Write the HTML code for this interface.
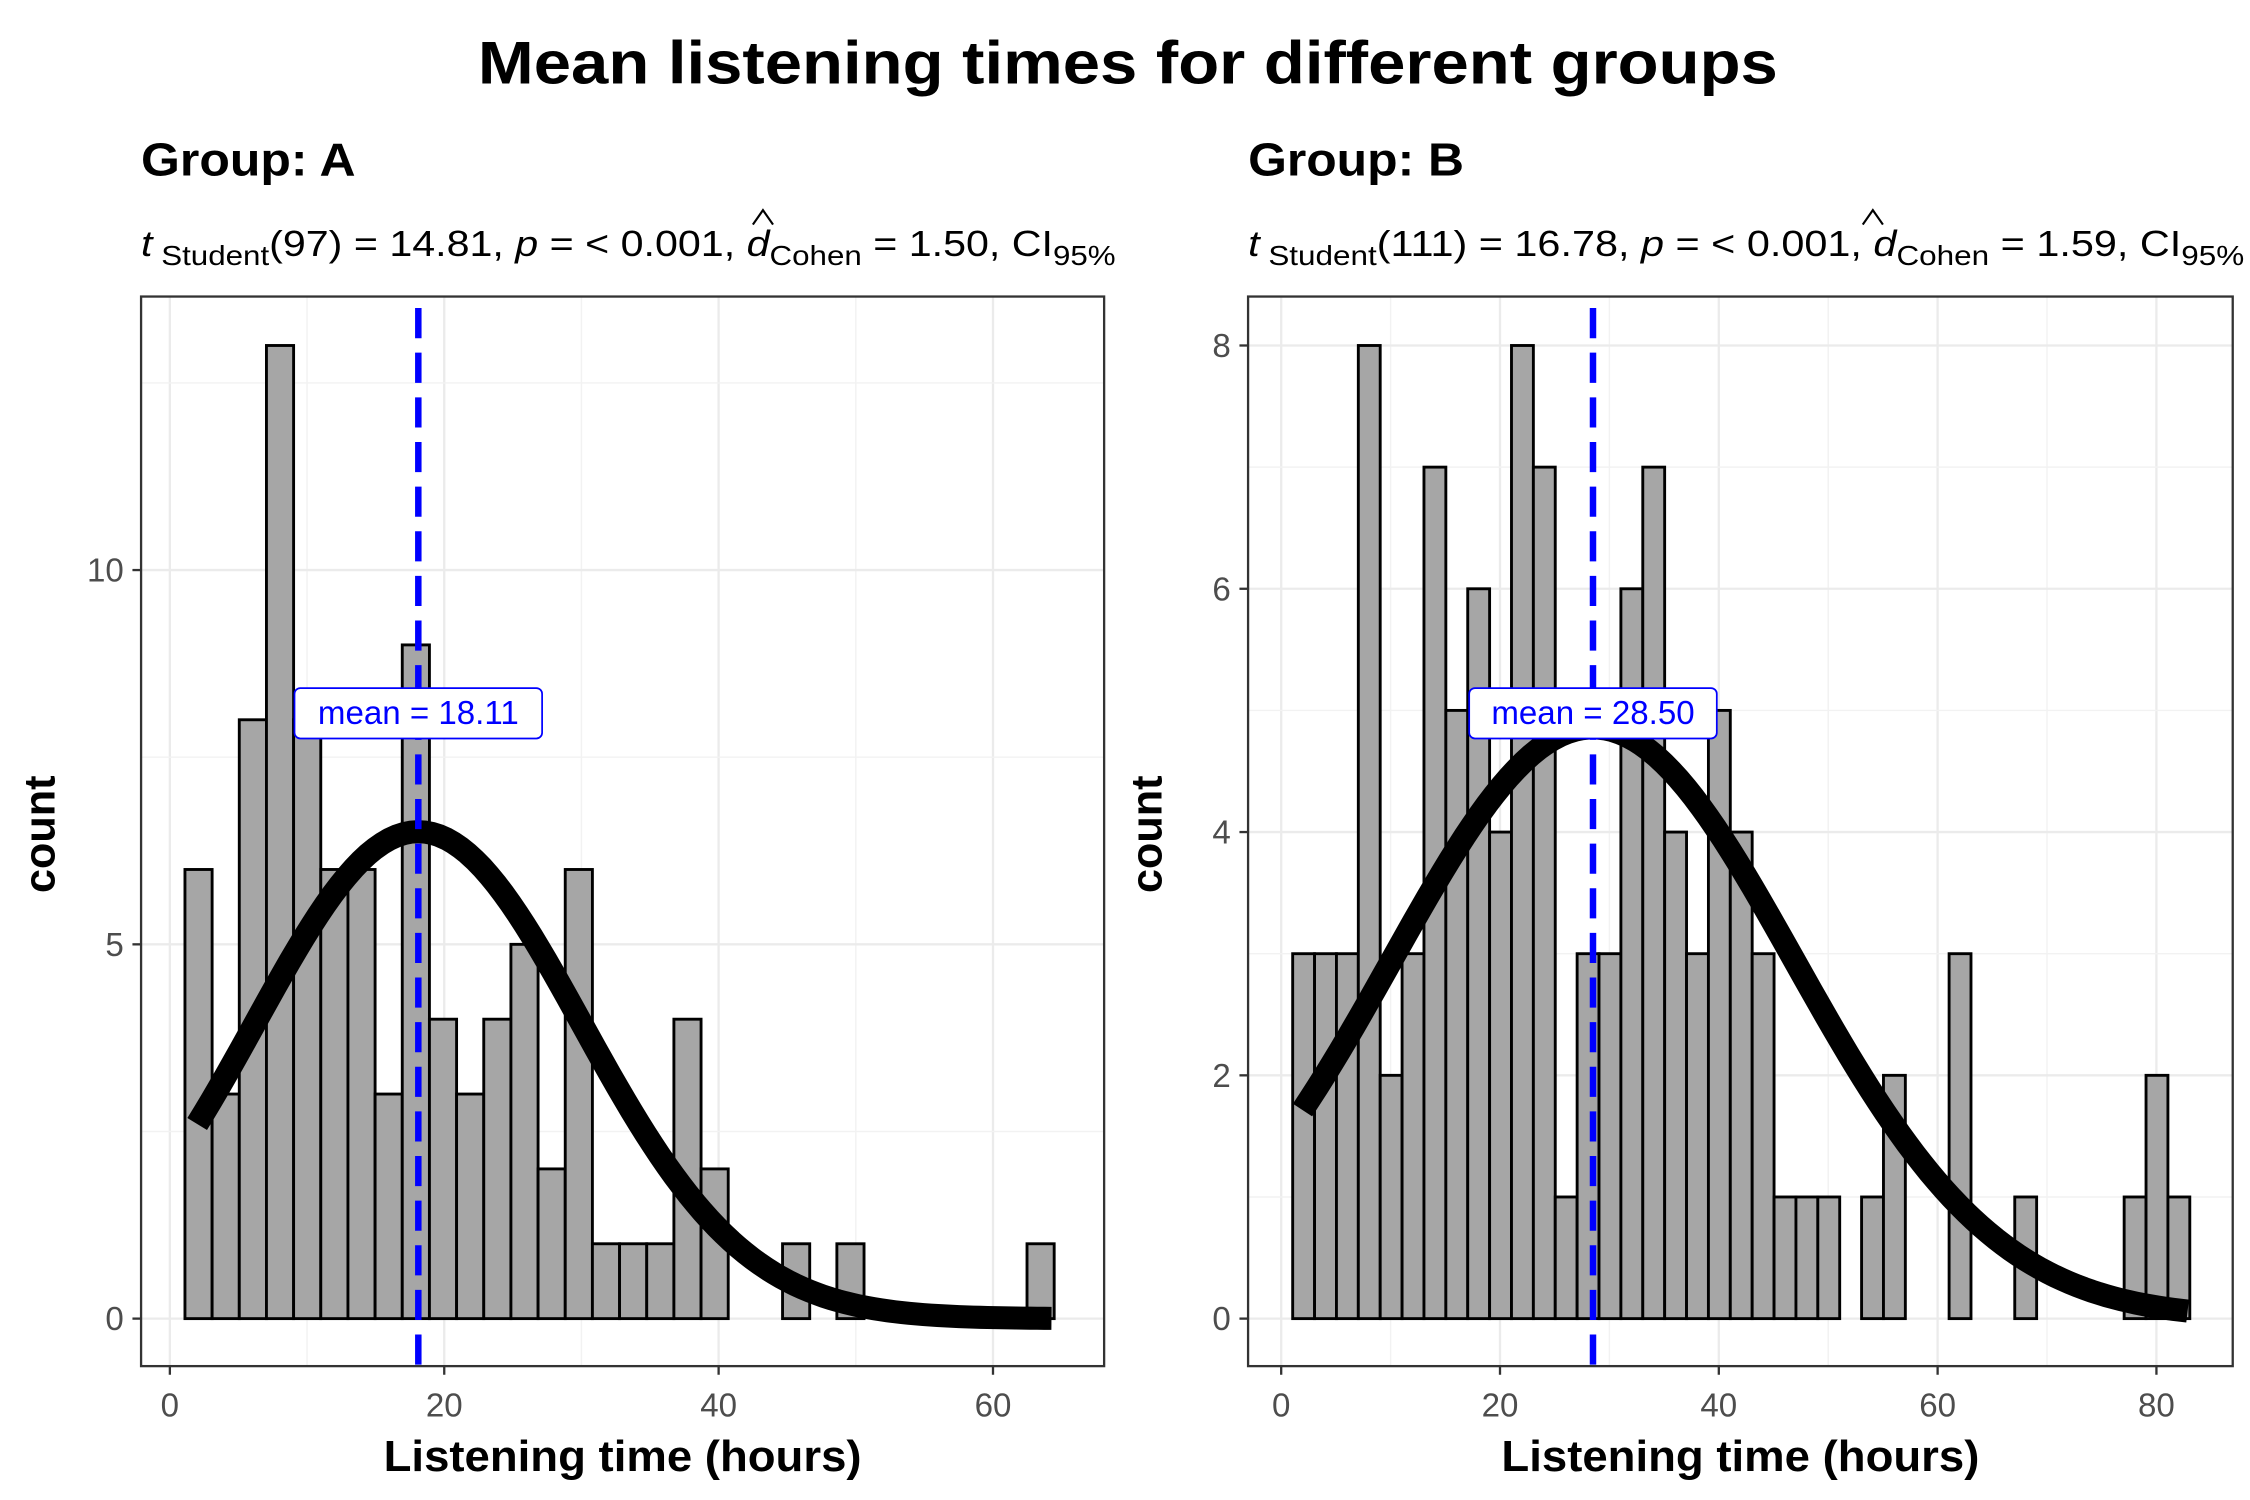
<!DOCTYPE html>
<html><head><meta charset="utf-8"><style>
html,body{margin:0;padding:0;background:#fff;}
svg{display:block;font-family:"Liberation Sans",Arial,sans-serif;}
</style></head><body>
<svg id="chart" width="2250" height="1500" viewBox="0 0 1563 1042" preserveAspectRatio="none" xmlns="http://www.w3.org/2000/svg">
<rect width="1563" height="1042" fill="#fff"/>
<text x="332" y="58" font-size="42" font-weight="bold" textLength="903" lengthAdjust="spacingAndGlyphs">Mean listening times for different groups</text>
</svg>
<script>
// ---- data ----
const binStartA = 1.1;
const binWidthA = 1.98;
const countsA = [6,3,8,13,8,6,6,3,9,4,3,4,5,2,6,1,1,1,4,2,0,0,1,0,1,0,0,0,0,0,0,1];
const meanA = 18.11;
const sdA = 11.9;
const nA = 98;
const xTicksA = [0,20,40,60];
const yTicksA = [0,5,10];

const binStartB = 1.05;
const binWidthB = 2.0;
const countsB = [3,3,3,8,2,3,7,5,6,4,8,7,1,3,3,6,7,4,3,5,4,3,1,1,1,0,1,2,0,0,3,0,0,1,0,0,0,0,1,2,1];
const meanB = 28.50;
const sdB = 18.4;
const nB = 112;
const xTicksB = [0,20,40,60,80];
const yTicksB = [0,2,4,6,8];

const svg = document.getElementById('chart');
const NS = 'http://www.w3.org/2000/svg';
function mk(tag, attrs, parent){
  const e = document.createElementNS(NS, tag);
  for (const k in attrs) e.setAttribute(k, attrs[k]);
  (parent||svg).appendChild(e);
  return e;
}

function panel(o){
  const g = mk('g', {});
  
  
  const X = v => o.x0 + (v - o.xd0) * o.xs;
  const Y = v => o.y0 - v * o.ys;
  const t = mk('text', {x:o.left, y:122, 'font-size':32, 'font-weight':'bold', textLength:o.titleLen, lengthAdjust:'spacingAndGlyphs'}, g);
  t.textContent = o.title;
  
  
  const s = mk('text', {x:o.left, y:178, 'font-size':25, textLength:o.subLen, lengthAdjust:'spacingAndGlyphs'}, g);
  
  
  s.innerHTML = '<tspan font-style="italic">t</tspan><tspan font-size="19" dy="6"> Student</tspan><tspan dy="-6">(' + o.df + ') = ' + o.tval + ', </tspan><tspan font-style="italic">p</tspan><tspan> = &lt; 0.001, </tspan><tspan font-style="italic">d</tspan><tspan font-size="19" dy="6">Cohen</tspan><tspan dy="-6"> = ' + o.dval + ', CI</tspan><tspan font-size="19" dy="6">95%</tspan>';
  const hat = mk('path', {d:'M'+(o.hatX-7)+' 156 L'+o.hatX+' 146 L'+(o.hatX+7)+' 156', fill:'none', stroke:'#000', 'stroke-width':1.5}, g);
  
  
  const grid = mk('g', {}, g);
  
  
  for (let i = 0; i < o.xTicks.length; i++) {
    const v = o.xTicks[i];
    mk('line', {x1:X(v), x2:X(v), y1:o.top, y2:o.bottom, stroke:'#ebebeb', 'stroke-width':1.6}, grid);
    const mv = v + (o.xTicks[1]-o.xTicks[0])/2;
    if (X(mv) < o.right) mk('line', {x1:X(mv), x2:X(mv), y1:o.top, y2:o.bottom, stroke:'#f2f2f2', 'stroke-width':1}, grid);
  }
  for (let i = 0; i < o.yTicks.length; i++) {
    const v = o.yTicks[i];
    mk('line', {x1:o.left, x2:o.right, y1:Y(v), y2:Y(v), stroke:'#ebebeb', 'stroke-width':1.6}, grid);
    const mv = v + (o.yTicks[1]-o.yTicks[0])/2;
    if (Y(mv) > o.top) mk('line', {x1:o.left, x2:o.right, y1:Y(mv), y2:Y(mv), stroke:'#f2f2f2', 'stroke-width':1}, grid);
  }
  for (let i = 0; i < o.counts.length; i++) {
    const x1 = X(o.bin0 + i*o.bw), x2 = X(o.bin0 + (i+1)*o.bw);
    const r = mk('rect', {x:x1, y:Y(o.counts[i]), width:x2-x1, height:Y(0)-Y(o.counts[i]), fill:'#a6a6a6', stroke:'#000', 'stroke-width':2}, g);
    
    
  }
  let d = '';
  const xa = o.bin0 + o.bw*0.45, xb = o.bin0 + (o.counts.length - 0.1)*o.bw;
  for (let k = 0; k <= 120; k++) {
    const xv = xa + (xb - xa)*k/120;
    const yv = o.n*o.bw/(o.sd*Math.sqrt(2*Math.PI))*Math.exp(-Math.pow(xv-o.mean,2)/(2*o.sd*o.sd));
    d += (k ? 'L' : 'M') + X(xv).toFixed(2) + ' ' + Y(yv).toFixed(2);
  }
  const c = mk('path', {d:d, fill:'none', stroke:'#000', 'stroke-width':16}, g);
  
  
  const ml = mk('line', {x1:X(o.mean), x2:X(o.mean), y1:o.top+8, y2:o.bottom, stroke:'#0000ff', 'stroke-width':4.5, 'stroke-dasharray':'21 10'}, g);
  
  
  const lw = o.labelW;
  const lb = mk('rect', {x:X(o.mean)-lw/2, y:478, width:lw, height:35, rx:4, fill:'#fff', stroke:'#0000ff', 'stroke-width':1.2}, g);
  
  
  const lt = mk('text', {x:X(o.mean), y:503, 'font-size':23, fill:'#0000ff', 'text-anchor':'middle'}, g);
  lt.textContent = 'mean = ' + o.mean.toFixed(2);
  
  
  const b = mk('rect', {x:o.left, y:o.top, width:o.right-o.left, height:o.bottom-o.top, fill:'none', stroke:'#333', 'stroke-width':1.6}, g);
  
  
  for (let i = 0; i < o.xTicks.length; i++) {
    const v = o.xTicks[i];
    mk('line', {x1:X(v), x2:X(v), y1:o.bottom, y2:o.bottom+6, stroke:'#333', 'stroke-width':1.6}, g);
    const tl = mk('text', {x:X(v), y:o.bottom+35, 'font-size':23, fill:'#4d4d4d', 'text-anchor':'middle'}, g);
    tl.textContent = v;
    
    
  }
  for (let i = 0; i < o.yTicks.length; i++) {
    const v = o.yTicks[i];
    mk('line', {x1:o.left-6, x2:o.left, y1:Y(v), y2:Y(v), stroke:'#333', 'stroke-width':1.6}, g);
    const tl = mk('text', {x:o.left-12, y:Y(v)+8, 'font-size':23, fill:'#4d4d4d', 'text-anchor':'end'}, g);
    tl.textContent = v;
    
    
  }
  const xt = mk('text', {x:(o.left+o.right)/2, y:1022, 'font-size':30, 'font-weight':'bold', 'text-anchor':'middle', textLength:o.xtLen, lengthAdjust:'spacingAndGlyphs'}, g);
  xt.textContent = 'Listening time (hours)';
  
  
  const cy = (o.top+o.bottom)/2 + 2;
  const yt = mk('text', {x:o.left-60, y:cy, 'font-size':30, 'font-weight':'bold', 'text-anchor':'middle', transform:'rotate(-90 '+(o.left-60)+' '+cy+')'}, g);
  yt.textContent = 'count';
  
  
}

panel({id:'group-a', title:'Group: A', titleLen:149, subLen:677, df:97, tval:'14.81', dval:'1.50', hatX:530, xtLen:332,
  left:98, right:767, top:206, bottom:949, x0:118, xd0:0, xs:9.53, y0:916, ys:52,
  counts:countsA, bin0:binStartA, bw:binWidthA, mean:meanA, sd:sdA, n:nA, xTicks:xTicksA, yTicks:yTicksA, labelW:172});
panel({id:'group-b', title:'Group: B', titleLen:150, subLen:692, df:111, tval:'16.78', dval:'1.59', hatX:1301, xtLen:332,
  left:867, right:1551, top:206, bottom:949, x0:890, xd0:0, xs:7.6, y0:916, ys:84.5,
  counts:countsB, bin0:binStartB, bw:binWidthB, mean:meanB, sd:sdB, n:nB, xTicks:xTicksB, yTicks:yTicksB, labelW:172});
</script>
</body></html>
